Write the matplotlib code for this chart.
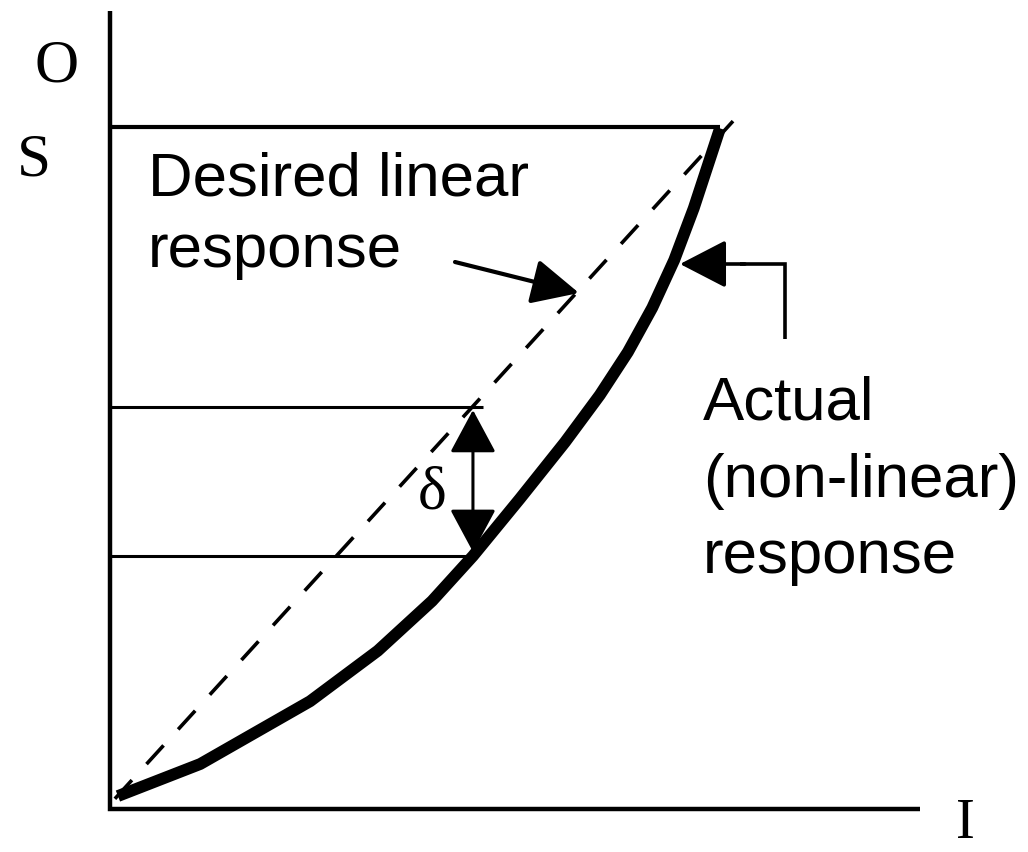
import matplotlib
matplotlib.use("Agg")
import matplotlib.pyplot as plt
from matplotlib.patches import FancyArrowPatch

# ---- data (input I, output O, normalised to full scale) ----
actual_I = [0.013, 0.148, 0.328, 0.439, 0.528, 0.595, 0.672, 0.746, 0.803, 0.849, 0.889, 0.925, 0.957, 1.000]
actual_O = [0.019, 0.066, 0.158, 0.232, 0.305, 0.371, 0.455, 0.538, 0.607, 0.670, 0.735, 0.805, 0.881, 0.998]
desired_I = [0.008, 1.036]
desired_O = [0.015, 1.023]
full_scale_O = 1.0
full_scale_I = 1.0
delta_I = 0.595
delta_O_desired = 0.589
delta_O_actual = 0.371

# ---- figure: axes covering the whole canvas ----
W, H = 1028, 853
fig = plt.figure(figsize=(W / 100, H / 100), dpi=100)
ax = fig.add_axes([0, 0, 1, 1])
X0, Y0, SX, SY = 110, 810, 610, 682   # pixel origin and scale


def P(x, y):
    """pixel position -> data coordinates (layout helper)"""
    return (x - X0) / SX, (Y0 - y) / SY


ax.set_xlim(P(0, 0)[0], P(W, 0)[0])
ax.set_ylim(P(0, H)[1], P(0, 0)[1])
ax.axis("off")

# axes (L shape)
xa_top = P(0, 12)[1]
xa_right = P(920, 0)[0]
ax.plot([0, 0, xa_right], [xa_top, 0, 0], color="black", lw=3.2,
        solid_joinstyle="miter", solid_capstyle="butt")

# full-scale horizontal line
ax.plot([0, full_scale_I], [full_scale_O, full_scale_O], color="black", lw=3.0,
        solid_capstyle="butt")

# delta reference lines
ax.plot([0, delta_I + 0.016], [delta_O_desired, delta_O_desired], color="black", lw=2.2,
        solid_capstyle="butt")
ax.plot([0, delta_I - 0.005], [delta_O_actual, delta_O_actual], color="black", lw=2.2,
        solid_capstyle="butt")

# desired linear response (dashed)
ax.plot(desired_I, desired_O, color="black", lw=2.6, linestyle=(0, (7, 6)),
        dash_capstyle="butt")

# actual response (thick)
ax.plot(actual_I, actual_O, color="black", lw=8.5, solid_joinstyle="round",
        solid_capstyle="butt")

# delta double arrow
ax.add_patch(FancyArrowPatch((delta_I, delta_O_desired - 0.004), (delta_I, delta_O_actual + 0.006),
                             arrowstyle="<|-|>,head_length=27,head_width=14.5",
                             mutation_scale=1, lw=2.2, color="black",
                             shrinkA=0, shrinkB=0))

# arrow to desired line
ax.add_patch(FancyArrowPatch(P(455, 263), P(579, 294),
                             arrowstyle="-|>,head_length=29,head_width=14",
                             mutation_scale=1, lw=3.0, color="black",
                             shrinkA=0, shrinkB=0))

# arrow to actual curve (bent)
ax.plot(*zip(P(785, 340), P(785, 265), P(740, 265)), color="black", lw=2.6,
        solid_joinstyle="miter", solid_capstyle="butt")
ax.add_patch(FancyArrowPatch(P(745, 265), P(680, 265),
                             arrowstyle="-|>,head_length=29,head_width=15",
                             mutation_scale=1, lw=2.6, color="black",
                             shrinkA=0, shrinkB=0))

# texts
sans = "Liberation Sans"
serif = "Liberation Serif"
ax.text(*P(148, 195), "Desired linear", family=sans, fontsize=44.5, ha="left", va="baseline")
ax.text(*P(148, 267), "response", family=sans, fontsize=44.5, ha="left", va="baseline")
ax.text(*P(703, 420), "Actual", family=sans, fontsize=44.5, ha="left", va="baseline")
ax.text(*P(703, 497), "(non-linear)", family=sans, fontsize=44.5, ha="left", va="baseline")
ax.text(*P(703, 573), "response", family=sans, fontsize=44.5, ha="left", va="baseline")

ax.text(*P(57, 81), "O", family=serif, fontsize=44, ha="center", va="baseline")
ax.text(*P(34, 176), "S", family=serif, fontsize=44, ha="center", va="baseline")
ax.text(*P(965, 838), "I", family=serif, fontsize=41, ha="center", va="baseline")
ax.text(*P(432, 509), "δ", family=serif, fontsize=44, ha="center", va="baseline")

fig.savefig("out.png", dpi=100, facecolor="white")
